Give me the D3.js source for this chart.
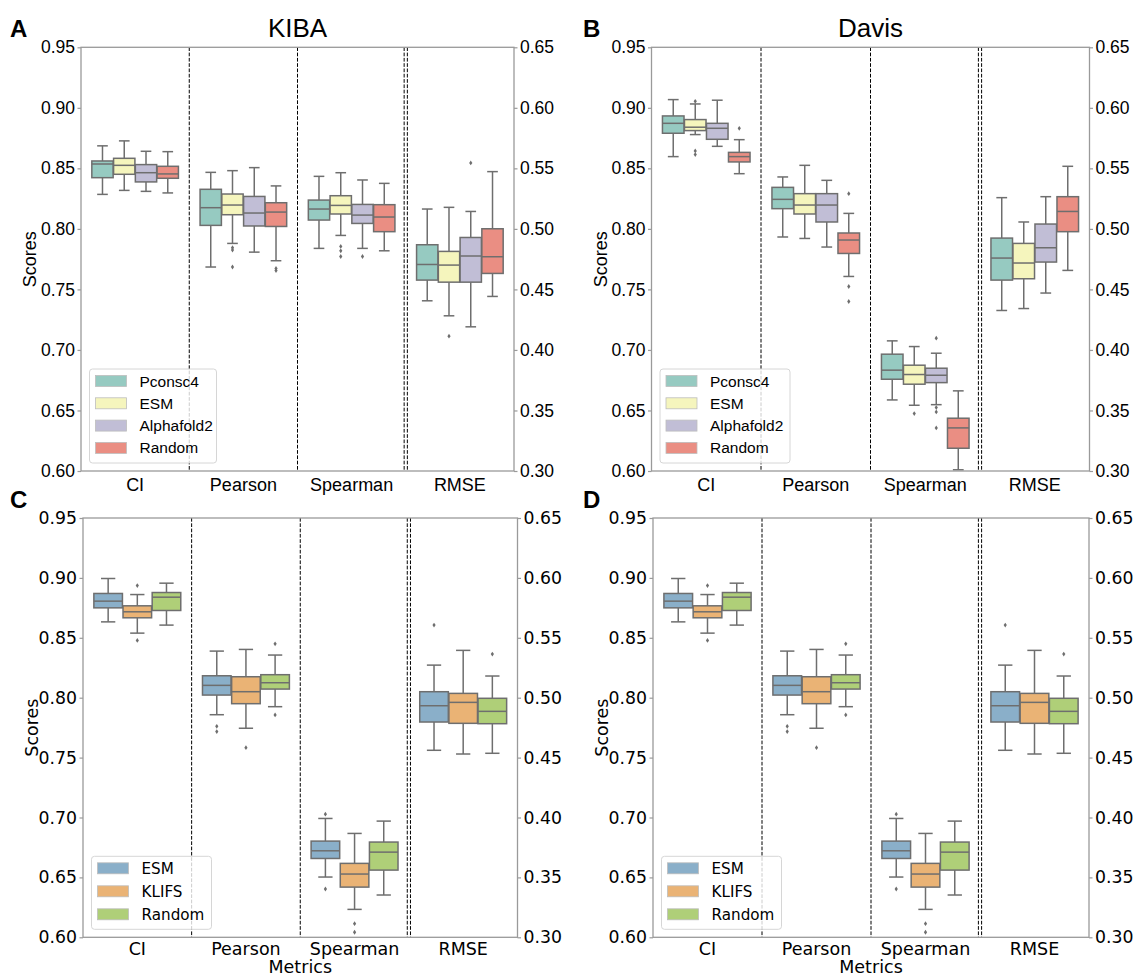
<!DOCTYPE html>
<html>
<head>
<meta charset="utf-8">
<script src="https://cdn.jsdelivr.net/npm/d3@7"></script>
<style>
  body { margin: 0; background: #fff; }
</style>
</head>
<body>
<svg width="1133" height="976"></svg>
<script>
// ---- data (box stats are [lower whisker, q1, median, q3, upper whisker]) ----
const metrics = ["CI", "Pearson", "Spearman", "RMSE"]
const topGroups = ["Pconsc4", "ESM", "Alphafold2", "Random"]
const bottomGroups = ["ESM", "KLIFS", "Random"]
const leftTicks = [0.60, 0.65, 0.70, 0.75, 0.80, 0.85, 0.90, 0.95]
const rightTicks = [0.30, 0.35, 0.40, 0.45, 0.50, 0.55, 0.60, 0.65]

// RMSE values are read on the right axis
const kibaBoxes = [
    [[0.8285, 0.8423, 0.8536, 0.8561, 0.8686], [0.8318, 0.8451, 0.8525, 0.8583, 0.8727], [0.8310, 0.8388, 0.8464, 0.8531, 0.8641], [0.8297, 0.8418, 0.8454, 0.8517, 0.8638]],
    [[0.7685, 0.8029, 0.8175, 0.8327, 0.8467], [0.7880, 0.8117, 0.8197, 0.8288, 0.8481], [0.7808, 0.8024, 0.8131, 0.8268, 0.8506], [0.7737, 0.8020, 0.8139, 0.8216, 0.8355]],
    [[0.7839, 0.8073, 0.8164, 0.8238, 0.8434], [0.7946, 0.8123, 0.8194, 0.8274, 0.8464], [0.7839, 0.8045, 0.8114, 0.8202, 0.8404], [0.7819, 0.7977, 0.8098, 0.8200, 0.8376]],
    [[0.4406, 0.4577, 0.4706, 0.4869, 0.5164], [0.4282, 0.4560, 0.4701, 0.4814, 0.5178], [0.4191, 0.4560, 0.4776, 0.4929, 0.5144], [0.4442, 0.4632, 0.4770, 0.5001, 0.5473]]
]
const kibaFliers = [
    [[], [], [], []],
    [[], [0.7844, 0.7825, 0.7685], [], [0.7673, 0.7656]],
    [[], [0.7855, 0.7819, 0.7772], [0.7772], []],
    [[], [0.4114], [0.5545], []]
]

const davisBoxes = [
    [[0.8597, 0.8790, 0.8872, 0.8933, 0.9068], [0.8779, 0.8812, 0.8840, 0.8903, 0.9032], [0.8682, 0.8740, 0.8831, 0.8872, 0.9063], [0.8456, 0.8553, 0.8597, 0.8632, 0.8737]],
    [[0.7933, 0.8167, 0.8244, 0.8343, 0.8429], [0.7921, 0.8123, 0.8197, 0.8291, 0.8525], [0.7850, 0.8057, 0.8197, 0.8291, 0.8401], [0.7607, 0.7797, 0.7908, 0.7966, 0.8128]],
    [[0.6587, 0.6758, 0.6833, 0.6965, 0.7075], [0.6543, 0.6717, 0.6797, 0.6874, 0.7028], [0.6548, 0.6730, 0.6791, 0.6849, 0.6973], [0.6010, 0.6188, 0.6356, 0.6436, 0.6662]],
    [[0.4326, 0.4577, 0.4759, 0.4924, 0.5258], [0.4342, 0.4588, 0.4718, 0.4880, 0.5057], [0.4470, 0.4726, 0.4844, 0.5040, 0.5266], [0.4657, 0.4977, 0.5144, 0.5266, 0.5517]]
]
const davisFliers = [
    [[], [0.9054, 0.8644, 0.8614], [], [0.8831]],
    [[], [], [], [0.8291, 0.7524, 0.7400]],
    [[], [0.6474], [0.7097, 0.6524, 0.6488, 0.6356], []],
    [[], [], [], []]
]

const kinaseBoxes = [
    [[0.8633, 0.8750, 0.8806, 0.8870, 0.8995], [0.8539, 0.8667, 0.8717, 0.8767, 0.8861], [0.8606, 0.8728, 0.8839, 0.8878, 0.8956]],
    [[0.7858, 0.8022, 0.8103, 0.8183, 0.8389], [0.7745, 0.7950, 0.8050, 0.8175, 0.8403], [0.7925, 0.8072, 0.8125, 0.8192, 0.8356]],
    [[0.6503, 0.6658, 0.6722, 0.6803, 0.6992], [0.6233, 0.6419, 0.6528, 0.6617, 0.6867], [0.6353, 0.6561, 0.6711, 0.6795, 0.6970]],
    [[0.4561, 0.4797, 0.4933, 0.5050, 0.5272], [0.4530, 0.4786, 0.4961, 0.5036, 0.5395], [0.4536, 0.4783, 0.4886, 0.4995, 0.5181]]
]
const kinaseFliers = [
    [[], [0.8936, 0.8478], []],
    [[0.7761, 0.7717], [0.7583], [0.8450, 0.7856]],
    [[0.7028, 0.6403], [0.6114, 0.6042], []],
    [[0.5606], [], [0.5364]]
]

const topColors = ["#96cac1", "#f5f5bd", "#c1bed6", "#ea8e83"]
const bottomColors = ["#8aafc9", "#eab375", "#afcf78"]

const lineGray = "#6e6e6e"
const spineGray = "#9a9a9a"
const arial = "'Liberation Sans', Arial, sans-serif"
const dejavu = "'DejaVu Sans', sans-serif"

let svg = d3.select("svg")

const panels = [
    {letter: "A", title: "KIBA", x0: 81, x1: 514, y0: 47.3, y1: 471, boxes: kibaBoxes, fliers: kibaFliers,
        groups: topGroups, colors: topColors, font: arial, tickFs: 17.5, labFs: 18, legFs: 15.5, xpad: 7,
        leg: {w: 127, h: 94, row: 22.3}},
    {letter: "B", title: "Davis", x0: 651.5, x1: 1089.5, y0: 47.3, y1: 471, boxes: davisBoxes, fliers: davisFliers,
        groups: topGroups, colors: topColors, font: arial, tickFs: 17.5, labFs: 18, legFs: 15.5, xpad: 7,
        leg: {w: 130, h: 94, row: 22.3}},
    {letter: "C", x0: 83, x1: 517.5, y0: 518, y1: 937.3, boxes: kinaseBoxes, fliers: kinaseFliers,
        groups: bottomGroups, colors: bottomColors, font: dejavu, tickFs: 17.3, labFs: 17.5, legFs: 15.2, xpad: 5.5,
        leg: {w: 120, h: 73, row: 23}, xlabel: "Metrics"},
    {letter: "D", x0: 653, x1: 1089, y0: 518, y1: 937.3, boxes: kinaseBoxes, fliers: kinaseFliers,
        groups: bottomGroups, colors: bottomColors, font: dejavu, tickFs: 17.3, labFs: 17.5, legFs: 15.2, xpad: 5.5,
        leg: {w: 120, h: 73, row: 23}, xlabel: "Metrics"}
]

function diamond(cx, cy) {
    return "M" + cx + "," + (cy - 2.4) + "L" + (cx + 1.6) + "," + cy + "L" + cx + "," + (cy + 2.4) + "L" + (cx - 1.6) + "," + cy + "Z"
}

function drawPanel(p) {
    let g = svg.append("g")

    let x = d3.scaleBand().domain(metrics).range([p.x0, p.x1])
    let inner = d3.scaleBand().domain(p.groups).range([0, x.bandwidth() * 0.8]).paddingInner(0.02)
    let yL = d3.scaleLinear().domain([0.60, 0.95]).range([p.y1, p.y0])
    let yR = d3.scaleLinear().domain([0.30, 0.65]).range([p.y1, p.y0])
    let color = d3.scaleOrdinal().domain(p.groups).range(p.colors)

    metrics.forEach(function (m, mi) {
        let ys = m === "RMSE" ? yR : yL
        p.groups.forEach(function (name, gi) {
            let s = p.boxes[mi][gi]
            let bw = inner.bandwidth()
            let bx = x(m) + x.bandwidth() * 0.1 + inner(name)
            let cx = bx + bw / 2
            let b = g.append("g")
            // whiskers and caps
            b.append("line").attr("x1", cx).attr("x2", cx).attr("y1", ys(s[0])).attr("y2", ys(s[1]))
            b.append("line").attr("x1", cx).attr("x2", cx).attr("y1", ys(s[3])).attr("y2", ys(s[4]))
            b.append("line").attr("x1", cx - bw / 4).attr("x2", cx + bw / 4).attr("y1", ys(s[0])).attr("y2", ys(s[0]))
            b.append("line").attr("x1", cx - bw / 4).attr("x2", cx + bw / 4).attr("y1", ys(s[4])).attr("y2", ys(s[4]))
            b.selectAll("line").attr("stroke", lineGray).attr("stroke-width", 1.5)
            b.append("rect")
                .attr("x", bx).attr("y", ys(s[3]))
                .attr("width", bw).attr("height", ys(s[1]) - ys(s[3]))
                .attr("fill", color(name))
                .attr("stroke", lineGray).attr("stroke-width", 1.5)
            b.append("line")
                .attr("x1", bx).attr("x2", bx + bw).attr("y1", ys(s[2])).attr("y2", ys(s[2]))
                .attr("stroke", lineGray).attr("stroke-width", 1.5)
            b.selectAll("path.flier").data(p.fliers[mi][gi]).enter()
                .append("path").attr("class", "flier")
                .attr("d", d => diamond(cx, ys(d)))
                .attr("fill", lineGray)
        })
    })

    // dashed separators between metrics, doubled before RMSE
    for (let i = 1; i < metrics.length; i++) {
        let xs = i === 3 ? [x(metrics[i]) - 1.6, x(metrics[i]) + 1.6] : [x(metrics[i])]
        xs.forEach(function (xx) {
            g.append("line")
                .attr("x1", xx).attr("x2", xx).attr("y1", p.y0).attr("y2", p.y1)
                .attr("stroke", "black").attr("stroke-width", 1)
                .attr("stroke-dasharray", "3.7,1.6")
        })
    }

    // spines
    g.append("rect")
        .attr("x", p.x0).attr("y", p.y0)
        .attr("width", p.x1 - p.x0).attr("height", p.y1 - p.y0)
        .attr("fill", "none").attr("stroke", spineGray).attr("stroke-width", 1.3)

    let left = g.append("g")
        .attr("transform", "translate(" + p.x0 + ",0)")
        .call(d3.axisLeft(yL).tickValues(leftTicks).tickSize(3.5).tickPadding(2.5).tickFormat(d3.format(".2f")))
    let right = g.append("g")
        .attr("transform", "translate(" + p.x1 + ",0)")
        .call(d3.axisRight(yR).tickValues(rightTicks).tickSize(3.5).tickPadding(2.5).tickFormat(d3.format(".2f")))
    let bottom = g.append("g")
        .attr("transform", "translate(0," + p.y1 + ")")
        .call(d3.axisBottom(x).tickSize(0).tickPadding(p.xpad))

    ;[left, right, bottom].forEach(function (a) {
        a.select(".domain").remove()
        a.selectAll(".tick line").attr("stroke", spineGray).attr("stroke-width", 1.2)
        a.selectAll(".tick text").attr("fill", "black").style("font-family", p.font)
    })
    left.selectAll(".tick text").style("font-size", p.tickFs + "px")
    right.selectAll(".tick text").style("font-size", p.tickFs + "px")
    bottom.selectAll(".tick text").style("font-size", p.labFs + "px")

    // y label
    let cy = (p.y0 + p.y1) / 2
    g.append("text")
        .attr("transform", "translate(" + (p.x0 - 45) + "," + cy + ") rotate(-90)")
        .attr("text-anchor", "middle")
        .style("font-family", p.font).style("font-size", p.labFs + "px")
        .text("Scores")

    if (p.xlabel) {
        g.append("text")
            .attr("x", (p.x0 + p.x1) / 2).attr("y", p.y1 + 36)
            .attr("text-anchor", "middle")
            .style("font-family", p.font).style("font-size", p.labFs + "px")
            .text(p.xlabel)
    }

    if (p.title) {
        g.append("text")
            .attr("x", (p.x0 + p.x1) / 2).attr("y", 37)
            .attr("text-anchor", "middle")
            .style("font-family", arial).style("font-size", "26px")
            .text(p.title)
    }

    g.append("text")
        .attr("x", p.x0 < 300 ? 10 : 583).attr("y", p.y0 - 10)
        .style("font-family", arial).style("font-size", "24px").style("font-weight", "bold")
        .text(p.letter)

    // legend
    let lx = p.x0 + 8.5, ly = p.y1 - 8 - p.leg.h
    let leg = g.append("g").attr("transform", "translate(" + lx + "," + ly + ")")
    leg.append("rect")
        .attr("width", p.leg.w).attr("height", p.leg.h).attr("rx", 3)
        .attr("fill", "white").attr("fill-opacity", 0.8)
        .attr("stroke", "#d6d6d6").attr("stroke-width", 1)
    p.groups.forEach(function (name, i) {
        let ry = 12 + i * p.leg.row
        leg.append("rect")
            .attr("x", 6).attr("y", ry - 5.5).attr("width", 31).attr("height", 11)
            .attr("fill", color(name)).attr("stroke", "#bdbdbd").attr("stroke-width", 0.8)
        leg.append("text")
            .attr("x", 50).attr("y", ry).attr("dy", "0.36em")
            .style("font-family", p.font).style("font-size", p.legFs + "px")
            .text(name)
    })
}

panels.forEach(drawPanel)
</script>
</body>
</html>
